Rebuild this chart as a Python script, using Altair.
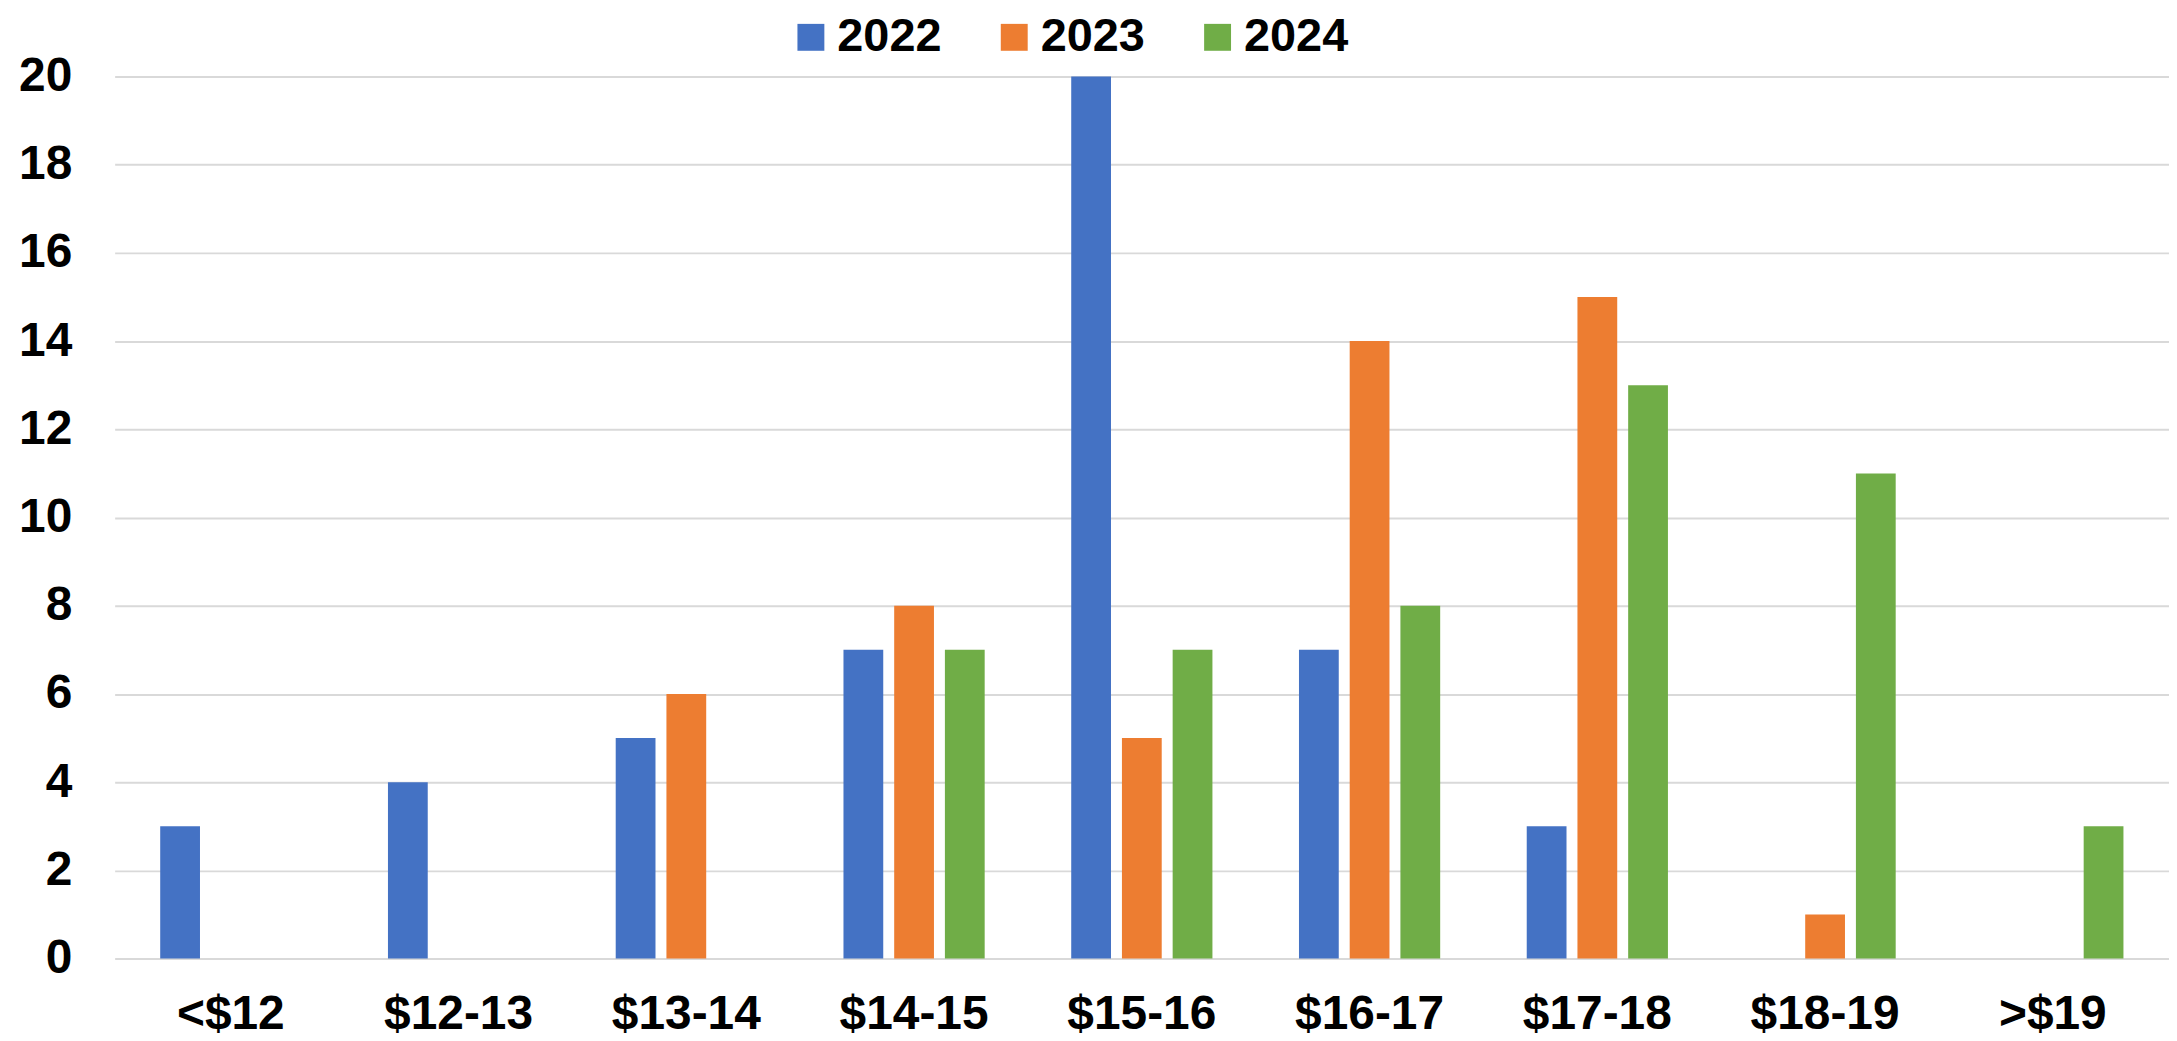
import altair as alt
import pandas as pd

categories = ["<$12", "$12-13", "$13-14", "$14-15", "$15-16", "$16-17", "$17-18", "$18-19", ">$19"]
years = ["2022", "2023", "2024"]
values_2022 = [3, 4, 5, 7, 20, 7, 3, 0, 0]
values_2023 = [0, 0, 6, 8, 5, 14, 15, 1, 0]
values_2024 = [0, 0, 0, 7, 7, 8, 13, 11, 3]
colors = ["#4472C4", "#ED7D31", "#70AD47"]

rows = []
for yr, vals in zip(years, [values_2022, values_2023, values_2024]):
    for c, v in zip(categories, vals):
        rows.append({"range": c, "year": yr, "count": v})
df = pd.DataFrame(rows)

FONT = "Liberation Sans"

chart = alt.Chart(df).mark_bar().encode(
    x=alt.X("range:N", sort=categories,
            scale=alt.Scale(paddingInner=0.38),
            axis=alt.Axis(title=None, labelAngle=0, labelFont=FONT, labelFontSize=48,
                          labelFontWeight="bold", labelColor="#000000", ticks=False,
                          domain=False, labelPadding=32)),
    xOffset=alt.XOffset("year:N", scale=alt.Scale(paddingInner=0.2157, paddingOuter=0)),
    y=alt.Y("count:Q", scale=alt.Scale(domain=[0, 20], nice=False),
            axis=alt.Axis(title=None, values=list(range(0, 21, 2)), labelFont=FONT,
                          labelFontSize=48, labelFontWeight="bold", labelColor="#000000",
                          ticks=False, domain=False, labelPadding=43,
                          gridColor="#d9d9d9", gridWidth=2)),
    color=alt.Color("year:N", scale=alt.Scale(domain=years, range=colors),
                    legend=alt.Legend(title=None, orient="none", direction="horizontal",
                                      legendX=675, legendY=-63, symbolType="square",
                                      symbolSize=729, symbolStrokeWidth=0,
                                      labelFont=FONT, labelFontSize=47,
                                      labelFontWeight="bold", labelColor="#000000",
                                      labelOffset=3, columnPadding=49, padding=0)),
).properties(
    width=2061, height=885,
    autosize=alt.AutoSizeParams(type="none"),
    padding={"left": 107, "top": 67, "right": 0, "bottom": 80},
).configure_view(stroke=None).configure_axis(labelFont=FONT)

chart.save("out.html", embed_options={"renderer": "svg", "actions": False})
